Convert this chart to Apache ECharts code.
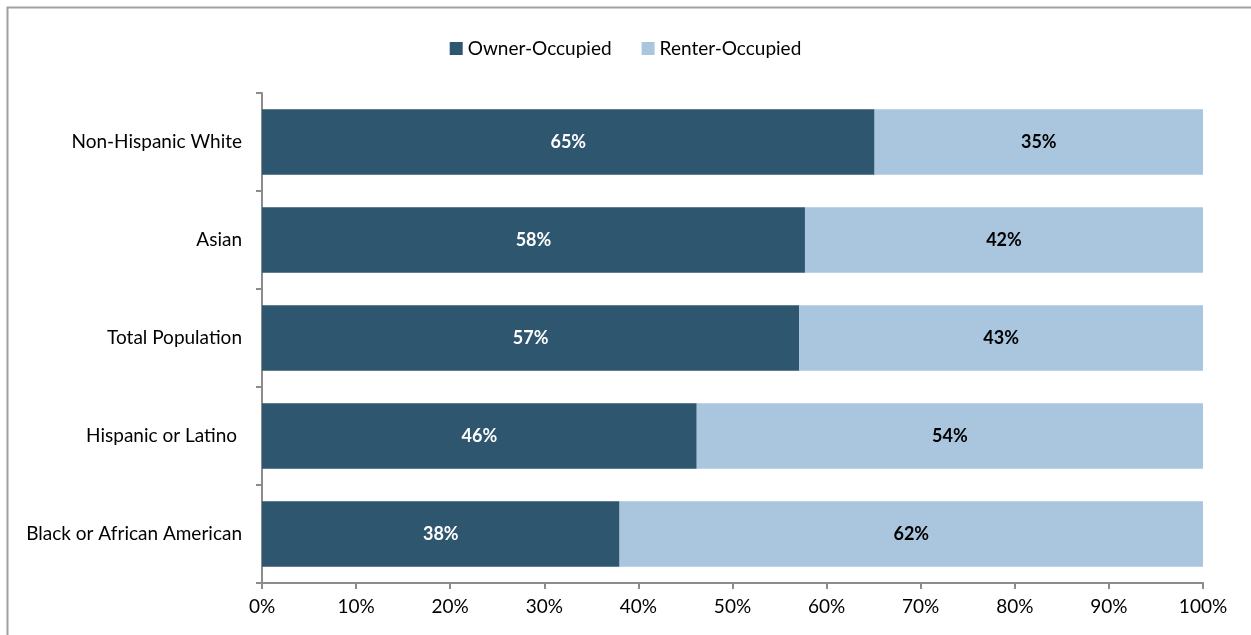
<!DOCTYPE html>
<html>
<head>
<meta charset="utf-8">
<script src="https://cdn.jsdelivr.net/npm/echarts@6/dist/echarts.min.js"></script>
<style>
  html, body { margin: 0; padding: 0; background: #fff; }
  #chart { width: 1251px; height: 635px; }
</style>
</head>
<body>
<div id="chart"></div>
<script>
// categories bottom -> top
var categories = ['Black or African American', 'Hispanic or Latino ', 'Total Population', 'Asian', 'Non-Hispanic White'];
var ownerValues = [38.0, 46.2, 57.1, 57.7, 65.1];
var renterValues = [62.0, 53.8, 42.9, 42.3, 34.9];
var xTicks = [0, 10, 20, 30, 40, 50, 60, 70, 80, 90, 100];

var font = 'Lato';
var chart = echarts.init(document.getElementById('chart'));

var option = {
    animation: false,
    textStyle: { fontFamily: font },
    graphic: [
        {
            type: 'rect',
            shape: { x: 7.5, y: 7.5, width: 1260, height: 640 },
            style: { fill: 'none', stroke: '#a0a0a0', lineWidth: 2 },
            silent: true
        }
    ],
    legend: {
        top: 34,
        left: 'center',
        itemWidth: 13,
        itemHeight: 13,
        itemGap: 30,
        icon: 'rect',
        textStyle: { fontFamily: font, fontSize: 19, color: '#000' },
        data: ['Owner-Occupied', 'Renter-Occupied']
    },
    grid: { left: 262, right: 48, top: 93, bottom: 52 },
    xAxis: {
        type: 'value',
        min: 0,
        max: 100,
        interval: 10,
        axisLine: { show: true, lineStyle: { color: '#8c8c8c', width: 2 } },
        axisTick: { show: true, length: 6, lineStyle: { color: '#8c8c8c', width: 2 } },
        splitLine: { show: false },
        axisLabel: {
            fontFamily: font,
            fontSize: 19,
            color: '#000',
            margin: 14,
            formatter: function (v) { return xTicks.indexOf(v) >= 0 ? v + '%' : ''; }
        }
    },
    yAxis: {
        type: 'category',
        data: categories,
        axisLine: { show: true, lineStyle: { color: '#8c8c8c', width: 2 } },
        axisTick: { show: true, length: 6, lineStyle: { color: '#8c8c8c', width: 2 } },
        axisLabel: { fontFamily: font, fontSize: 19, color: '#000', margin: 20, padding: [4, 0, 0, 0] }
    },
    series: [
        {
            name: 'Owner-Occupied',
            type: 'bar',
            stack: 'total',
            barCategoryGap: '33%',
            data: ownerValues,
            itemStyle: { color: '#2e566e' },
            label: {
                show: true,
                position: 'inside',
                color: '#fff',
                fontWeight: 'bold',
                fontSize: 18,
                fontFamily: font,
                formatter: function (p) { return Math.round(p.value) + '%'; }
            }
        },
        {
            name: 'Renter-Occupied',
            type: 'bar',
            stack: 'total',
            data: renterValues,
            itemStyle: { color: '#a9c6de' },
            label: {
                show: true,
                position: 'inside',
                color: '#000',
                fontWeight: 'bold',
                fontSize: 18,
                fontFamily: font,
                formatter: function (p) { return Math.round(p.value) + '%'; }
            }
        }
    ]
};

chart.setOption(option);
</script>
</body>
</html>
